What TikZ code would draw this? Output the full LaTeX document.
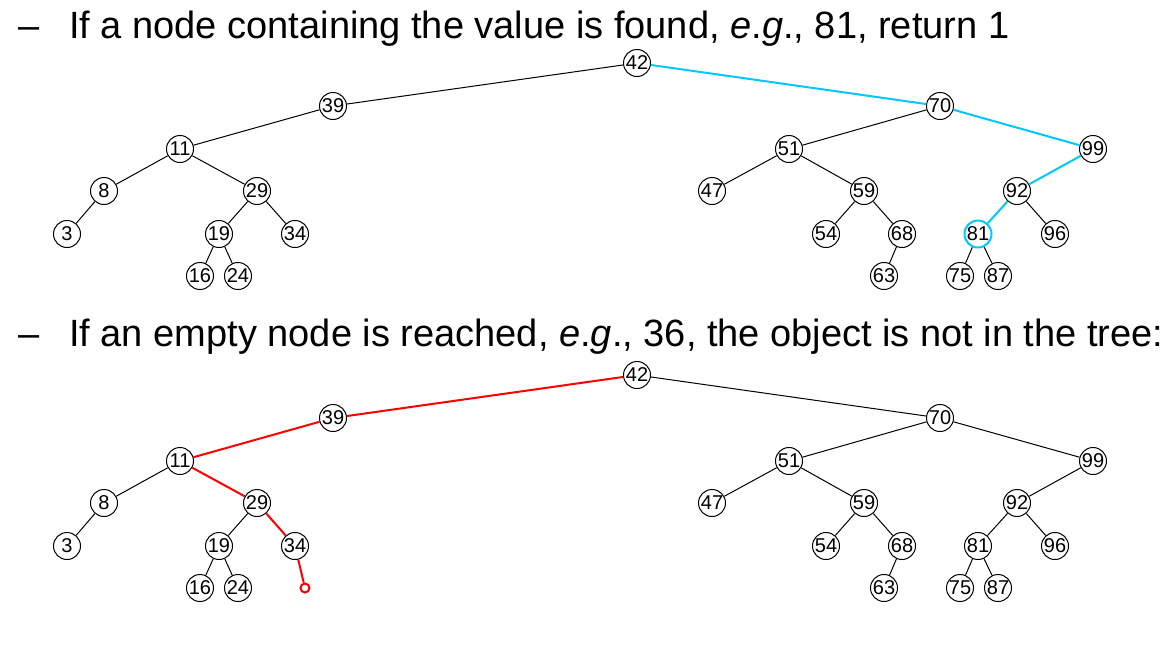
\documentclass[tikz,border=0pt]{standalone}
\usepackage{fontspec}
\setmainfont{Liberation Sans}
\usepackage{xcolor}
\usetikzlibrary{arrows.meta,positioning}
\definecolor{hitblue}{RGB}{0,200,255}
\definecolor{missred}{RGB}{255,0,0}

\begin{document}
\begin{tikzpicture}[
  x=1pt,y=-1pt,
  key/.style={draw,circle,line width=1pt,minimum size=27pt,inner sep=0pt,font=\fontsize{20}{20}\selectfont,fill=white},
  edge/.style={line width=1pt},
  found/.style={line width=2pt,draw=hitblue},
  miss/.style={line width=2pt,draw=missred},
  head/.style={anchor=base west,inner sep=0pt,font=\fontsize{38}{44}\selectfont}
]
\useasboundingbox (0,0) rectangle (1164,651);

% search for 81
\node[head] (t1) at (18,38) {\makebox[51pt][l]{--}If a node containing the value is found, \textit{e}.\textit{g}., 81, return 1};

\node[key] (a42) at (637,63) {42};
\node[key] (a39) at (333,106) {39};
\node[key] (a70) at (940,106) {70};
\node[key] (a11) at (180,149) {11};
\node[key] (a51) at (789,149) {51};
\node[key] (a99) at (1093,149) {99};
\node[key] (a8) at (104,191) {8};
\node[key] (a29) at (257,191) {29};
\node[key] (a47) at (712,191) {47};
\node[key] (a59) at (864,191) {59};
\node[key] (a92) at (1017,191) {92};
\node[key] (a3) at (67,234) {3};
\node[key] (a19) at (219,234) {19};
\node[key] (a34) at (295,234) {34};
\node[key] (a54) at (826,234) {54};
\node[key] (a68) at (902,234) {68};
\node[key,draw=hitblue,line width=2pt] (a81) at (978,234) {81};
\node[key] (a96) at (1055,234) {96};
\node[key] (a16) at (200,276) {16};
\node[key] (a24) at (238,276) {24};
\node[key] (a63) at (884,276) {63};
\node[key] (a75) at (960,276) {75};
\node[key] (a87) at (998,276) {87};

\draw[edge] (a42) -- (a39);
\draw[found] (a42) -- (a70);
\draw[edge] (a39) -- (a11);
\draw[edge] (a11) -- (a8);
\draw[edge] (a11) -- (a29);
\draw[edge] (a8) -- (a3);
\draw[edge] (a29) -- (a19);
\draw[edge] (a29) -- (a34);
\draw[edge] (a19) -- (a16);
\draw[edge] (a19) -- (a24);
\draw[edge] (a70) -- (a51);
\draw[found] (a70) -- (a99);
\draw[edge] (a51) -- (a47);
\draw[edge] (a51) -- (a59);
\draw[edge] (a59) -- (a54);
\draw[edge] (a59) -- (a68);
\draw[edge] (a68) -- (a63);
\draw[found] (a99) -- (a92);
\draw[found] (a92) -- (a81);
\draw[edge] (a92) -- (a96);
\draw[edge] (a81) -- (a75);
\draw[edge] (a81) -- (a87);

% search for 36
\node[head] (t2) at (18,346) {\makebox[51pt][l]{--}If an empty node is reached, \textit{e}.\textit{g}., 36, the object is not in the tree:};

\node[key] (b42) at (637,375) {42};
\node[key] (b39) at (333,418) {39};
\node[key] (b70) at (940,418) {70};
\node[key] (b11) at (180,461) {11};
\node[key] (b51) at (789,461) {51};
\node[key] (b99) at (1093,461) {99};
\node[key] (b8) at (104,503) {8};
\node[key] (b29) at (257,503) {29};
\node[key] (b47) at (712,503) {47};
\node[key] (b59) at (864,503) {59};
\node[key] (b92) at (1017,503) {92};
\node[key] (b3) at (67,546) {3};
\node[key] (b19) at (219,546) {19};
\node[key] (b34) at (295,546) {34};
\node[key] (b54) at (826,546) {54};
\node[key] (b68) at (902,546) {68};
\node[key] (b81) at (978,546) {81};
\node[key] (b96) at (1055,546) {96};
\node[key] (b16) at (200,588) {16};
\node[key] (b24) at (238,588) {24};
\node[key] (b63) at (884,588) {63};
\node[key] (b75) at (960,588) {75};
\node[key] (b87) at (998,588) {87};
\node[draw=missred,circle,line width=2pt,minimum size=9pt,inner sep=0pt] (bnil) at (305,588) {};

\draw[miss] (b42) -- (b39);
\draw[edge] (b42) -- (b70);
\draw[miss] (b39) -- (b11);
\draw[edge] (b11) -- (b8);
\draw[miss] (b11) -- (b29);
\draw[edge] (b8) -- (b3);
\draw[edge] (b29) -- (b19);
\draw[miss] (b29) -- (b34);
\draw[miss] (b34) -- (bnil);
\draw[edge] (b19) -- (b16);
\draw[edge] (b19) -- (b24);
\draw[edge] (b70) -- (b51);
\draw[edge] (b70) -- (b99);
\draw[edge] (b51) -- (b47);
\draw[edge] (b51) -- (b59);
\draw[edge] (b59) -- (b54);
\draw[edge] (b59) -- (b68);
\draw[edge] (b68) -- (b63);
\draw[edge] (b99) -- (b92);
\draw[edge] (b92) -- (b81);
\draw[edge] (b92) -- (b96);
\draw[edge] (b81) -- (b75);
\draw[edge] (b81) -- (b87);
\end{tikzpicture}
\end{document}
